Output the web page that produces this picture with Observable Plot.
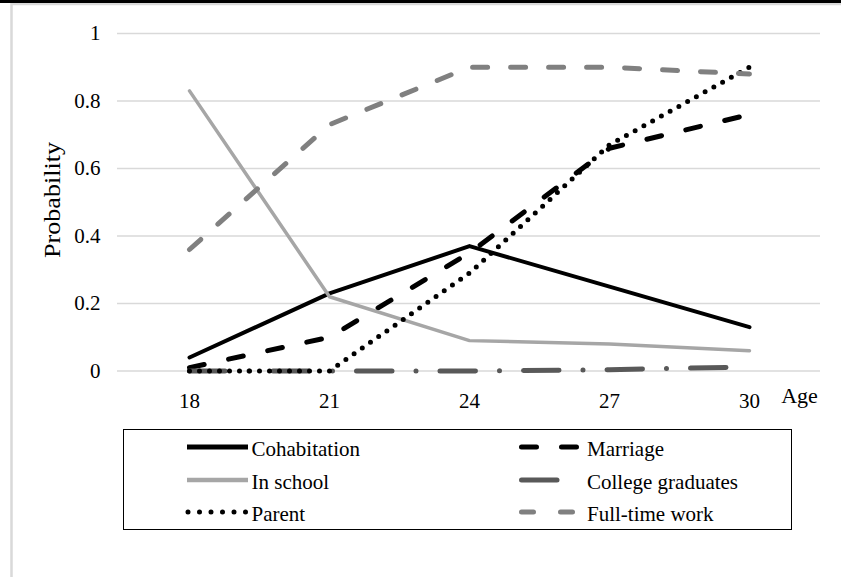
<!DOCTYPE html>
<html>
<head>
<meta charset="utf-8">
<script src="https://cdn.jsdelivr.net/npm/d3@7"></script>
<script src="https://cdn.jsdelivr.net/npm/@observablehq/plot@0.6"></script>
<style>
  html, body { margin: 0; padding: 0; background: #fff; }
  #wrap { position: relative; width: 841px; height: 577px; overflow: hidden; background: #fff; }
  #wrap > svg, #wrap > div { position: absolute; left: 0; top: 0; }
  #wrap text { font-family: "Liberation Serif", "Times New Roman", serif; }
</style>
</head>
<body>
<div id="wrap"></div>
<script>
// ---- data ----
const ages = [18, 21, 24, 27, 30];
const cohabitation = [0.04, 0.23, 0.37, 0.25, 0.13];
const marriage = [0.01, 0.10, 0.35, 0.66, 0.76];
const inSchool = [0.83, 0.22, 0.09, 0.08, 0.06];
const collegeGraduates = [0, 0, 0, 0.004, 0.012];
const parent = [0, 0, 0.29, 0.67, 0.90];
const fullTimeWork = [0.36, 0.73, 0.90, 0.90, 0.88];
const yTicks = [0, 0.2, 0.4, 0.6, 0.8, 1];
const yTickLabels = ["0", "0.2", "0.4", "0.6", "0.8", "1"];
const seriesNames = ["Cohabitation", "Marriage", "In school", "College graduates", "Parent", "Full-time work"];

const seriesValues = [cohabitation, marriage, inSchool, collegeGraduates, parent, fullTimeWork];
const styles = [
  {stroke: "#000000", strokeWidth: 4, strokeDasharray: null, cap: "round"},
  {stroke: "#000000", strokeWidth: 5, strokeDasharray: "15 25", cap: "round"},
  {stroke: "#a6a6a6", strokeWidth: 3.5, strokeDasharray: null, cap: "round"},
  {stroke: "#595959", strokeWidth: 5, strokeDasharray: "35.5 24 0 24", cap: "round"},
  {stroke: "#000000", strokeWidth: 5, strokeDasharray: "0 10", cap: "round"},
  {stroke: "#808080", strokeWidth: 5, strokeDasharray: "15 23", cap: "round"}
];

const FONT = "Liberation Serif, Times New Roman, serif";
const wrap = document.getElementById("wrap");

// ---- background frame ----
const bg = d3.create("svg").attr("width", 841).attr("height", 577);
bg.append("rect").attr("x", 11.5).attr("y", 4).attr("width", 900).attr("height", 600)
  .attr("fill", "none").attr("stroke", "#d9d9d9").attr("stroke-width", 2.5);
bg.append("line").attr("x1", 0).attr("x2", 841).attr("y1", 1.5).attr("y2", 1.5)
  .attr("stroke", "#000").attr("stroke-width", 3);
wrap.appendChild(bg.node());

// ---- plot ----
const lineMarks = seriesValues.map((vals, k) => {
  const s = styles[k];
  const data = ages.map((a, i) => ({age: a, value: vals[i], series: seriesNames[k]}));
  return Plot.line(data, {
    x: "age", y: "value",
    stroke: s.stroke, strokeWidth: s.strokeWidth,
    strokeDasharray: s.strokeDasharray || undefined,
    strokeLinecap: s.cap, strokeLinejoin: "round"
  });
});

const chart = Plot.plot({
  width: 841,
  height: 420,
  marginLeft: 117,
  marginRight: 21,
  marginTop: 33,
  marginBottom: 49.5,
  style: {background: "transparent", fontFamily: FONT, fontSize: "21px", color: "#000", overflow: "visible"},
  x: {type: "point", domain: ages, padding: 0.5, axis: null},
  y: {domain: [0, 1], axis: null},
  marks: [
    Plot.ruleY(yTicks, {stroke: "#d9d9d9", strokeWidth: 1.5}),
    Plot.axisY(yTicks, {tickSize: 0, tickPadding: 17, fontSize: 21, tickFormat: (d) => yTickLabels[yTicks.indexOf(d)], label: null}),
    Plot.axisX(ages, {tickSize: 0, tickPadding: 22, fontSize: 21, label: null}),
    ...lineMarks
  ]
});
wrap.appendChild(chart);

const svg = d3.select(chart);
svg.append("text")
  .attr("x", 799.5).attr("y", 403)
  .attr("text-anchor", "middle")
  .attr("font-size", 22).attr("fill", "#000")
  .text("Age");
svg.append("text")
  .attr("transform", "translate(60,200) rotate(-90)")
  .attr("text-anchor", "middle")
  .attr("font-size", 23).attr("fill", "#000")
  .attr("textLength", 116).attr("lengthAdjust", "spacingAndGlyphs")
  .text("Probability");

// ---- legend (below the plot SVG) ----
const lg = d3.create("svg").attr("width", 841).attr("height", 157)
  .style("top", "420px");
lg.append("rect").attr("x", 123.5).attr("y", 9.5).attr("width", 668).attr("height", 100)
  .attr("fill", "#fff").attr("stroke", "#000").attr("stroke-width", 1);
const rows = [27, 60, 92];
const legendItems = [
  {k: 0, x1: 187, x2: 248, tx: 251.5, cap: "butt", w: 5},
  {k: 1, x1: 521.5, x2: 576.5, tx: 587, cap: "round", w: 5},
  {k: 2, x1: 187, x2: 248, tx: 251.5, cap: "butt", w: 4.5},
  {k: 3, x1: 521.5, x2: 560.5, tx: 587, cap: "round", w: 5},
  {k: 4, x1: 188, x2: 246, tx: 251.5, cap: "round", w: 5, dash: "0 11.5"},
  {k: 5, x1: 521.5, x2: 576.5, tx: 587, cap: "round", w: 5, dash: "12 27"}
];
legendItems.forEach((it, i) => {
  const s = styles[it.k];
  const y = rows[Math.floor(i / 2)];
  lg.append("line").attr("x1", it.x1).attr("x2", it.x2).attr("y1", y).attr("y2", y)
    .attr("stroke", s.stroke).attr("stroke-width", it.w)
    .attr("stroke-dasharray", it.dash || s.strokeDasharray)
    .attr("stroke-linecap", it.cap);
  lg.append("text").attr("x", it.tx).attr("y", y + 9)
    .attr("font-size", 21).attr("fill", "#000")
    .text(seriesNames[it.k]);
});
wrap.appendChild(lg.node());
</script>
</body>
</html>
